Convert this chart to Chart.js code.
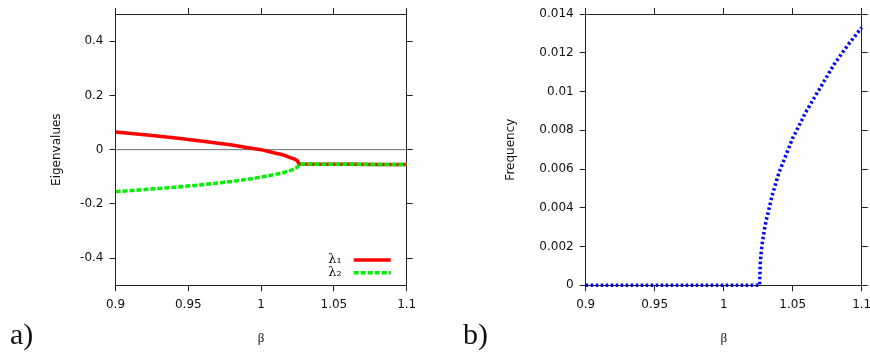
<!DOCTYPE html>
<html>
<head>
<meta charset="utf-8">
<script src="https://cdn.jsdelivr.net/npm/chart.js@4.4.1/dist/chart.umd.min.js"></script>
<style>
    body { margin: 0; background: #fff; width: 870px; height: 352px; overflow: hidden; position: relative; }
    .panel { position: absolute; top: 0; width: 435px; height: 352px; }
    .tag { position: absolute; top: 319px; font: 30px "Liberation Serif", serif; line-height: 30px; color: #111; }
</style>
</head>
<body>
<div class="panel" style="left:0"><canvas id="eigChart" width="435" height="352"></canvas></div>
<div class="panel" style="left:435px"><canvas id="freqChart" width="435" height="352"></canvas></div>
<div class="tag" style="left:10px">a)</div>
<div class="tag" style="left:463px">b)</div>
<script>
// tick values
const betaTicks = [0.9, 0.95, 1, 1.05, 1.1];
const eigTicks = [-0.4, -0.2, 0, 0.2, 0.4];
const freqTicks = [0, 0.002, 0.004, 0.006, 0.008, 0.01, 0.012, 0.014];

// panel a) eigenvalues
const betaEig = [0.9, 0.92, 0.94, 0.96, 0.98, 0.99, 1.0, 1.01, 1.015, 1.02, 1.023, 1.025, 1.0262, 1.04, 1.06, 1.08, 1.1];
const lambda1 = [0.065, 0.055, 0.044, 0.031, 0.017, 0.008, 0.000, -0.013, -0.019, -0.029, -0.035, -0.042, -0.053, -0.0535, -0.054, -0.0545, -0.055];
const lambda2 = [-0.155, -0.147, -0.139, -0.129, -0.117, -0.110, -0.101, -0.091, -0.085, -0.077, -0.071, -0.064, -0.053, -0.0535, -0.054, -0.0545, -0.055];
const zeroBeta = [0.9, 1.1];
const zeroLine = [0, 0];

// panel b) frequency
const betaFreq = [0.9, 0.95, 1.0, 1.026, 1.0265, 1.027, 1.028, 1.03, 1.035, 1.04, 1.045, 1.05, 1.06, 1.07, 1.08, 1.09, 1.1];
const frequency = [0, 0, 0, 0, 0.0011, 0.0016, 0.0022, 0.0031, 0.0046, 0.0058, 0.0067, 0.0076, 0.0090, 0.0102, 0.0114, 0.0124, 0.0133];

Chart.defaults.font.family = '"DejaVu Sans", sans-serif';
Chart.defaults.font.size = 12;
Chart.defaults.color = '#111';

function pts(xs, ys) {
    return xs.map((x, i) => ({x: x, y: ys[i]}));
}

function useTicks(values) {
    return function (scale) {
        scale.ticks = values.map(v => ({value: v}));
    };
}

function fixWidth(w) {
    return function (scale) {
        scale.width = w;
        scale.paddingTop = 0;
        scale.paddingBottom = 0;
    };
}

function fixHeight(h) {
    return function (scale) {
        scale.height = h;
        scale.paddingLeft = 0;
        scale.paddingRight = 0;
    };
}

const innerLegend = {
    id: 'innerLegend',
    afterDatasetsDraw(chart, args, opts) {
        if (!opts.show) return;
        const ctx = chart.ctx;
        const area = chart.chartArea;
        let y = area.bottom - 25.3;
        ctx.save();
        ctx.font = '13px "DejaVu Serif", serif';
        ctx.textAlign = 'right';
        ctx.textBaseline = 'middle';
        chart.data.datasets.forEach(ds => {
            if (!ds.inLegend) return;
            ctx.fillStyle = '#111';
            ctx.fillText(ds.label, area.right - 65, y);
            ctx.strokeStyle = ds.borderColor;
            ctx.lineWidth = ds.borderWidth;
            ctx.setLineDash(ds.borderDash || []);
            ctx.beginPath();
            ctx.moveTo(area.right - 53, y);
            ctx.lineTo(area.right - 16, y);
            ctx.stroke();
            y += 12.7;
        });
        ctx.restore();
    }
};

function axis(pos, min, max, ticks, fit, extra) {
    let a = {
        type: 'linear',
        position: pos,
        min: min,
        max: max,
        afterBuildTicks: useTicks(ticks),
        afterFit: fit,
        border: {display: true, color: '#222', width: 1},
        grid: {display: true, drawOnChartArea: false, drawTicks: true, tickLength: 6, color: '#222'},
        ticks: {display: false}
    };
    return Object.assign(a, extra || {});
}

function createChart(id, datasets, yMin, yMax, yTicks, sizes, yTitle, yTitlePad, legend) {
    let ctx = document.getElementById(id).getContext('2d');
    return new Chart(ctx, {
        type: 'line',
        data: {datasets: datasets},
        plugins: [innerLegend],
        options: {
            responsive: false,
            animation: false,
            layout: {padding: 0},
            elements: {point: {radius: 0}, line: {tension: 0}},
            plugins: {
                legend: {display: false},
                tooltip: {enabled: false},
                innerLegend: {show: legend}
            },
            scales: {
                x: axis('bottom', 0.9, 1.1, betaTicks, fixHeight(sizes.bottom), {
                    ticks: {display: true, padding: 6, maxRotation: 0, autoSkip: false, callback: v => String(v)},
                    title: {display: true, text: 'β', font: {family: '"Liberation Serif", serif', size: 13}, padding: {top: 0, bottom: 5.7}}
                }),
                x2: axis('top', 0.9, 1.1, betaTicks, fixHeight(sizes.top)),
                y: axis('left', yMin, yMax, yTicks, fixWidth(sizes.left), {
                    ticks: {display: true, padding: 6, autoSkip: false, callback: v => String(v)},
                    title: {display: true, text: yTitle, padding: {top: yTitlePad, bottom: 0}}
                }),
                y2: axis('right', yMin, yMax, yTicks, fixWidth(sizes.right))
            }
        }
    });
}

createChart('eigChart', [
    {
        label: 'λ₁',
        inLegend: true,
        data: pts(betaEig, lambda1),
        borderColor: '#ff0000',
        borderWidth: 3.5,
        order: 2
    },
    {
        label: 'λ₂',
        inLegend: true,
        data: pts(betaEig, lambda2),
        borderColor: '#00f000',
        borderWidth: 3.5,
        borderDash: [5, 2],
        order: 1
    },
    {
        label: '',
        data: pts(zeroBeta, zeroLine),
        borderColor: '#6e6e6e',
        borderWidth: 1,
        order: 3
    }
], -0.5, 0.5, eigTicks, {left: 115.5, right: 28.3, top: 14, bottom: 66.7}, 'Eigenvalues', 49.5, true);

createChart('freqChart', [
    {
        label: 'frequency',
        data: pts(betaFreq, frequency),
        borderColor: '#0000ff',
        borderWidth: 3.5,
        borderDash: [2.5, 2.5],
        clip: false
    }
], 0, 0.014, freqTicks, {left: 150.7, right: 8.3, top: 14, bottom: 66.7}, 'Frequency', 68.5, false);
</script>
</body>
</html>
